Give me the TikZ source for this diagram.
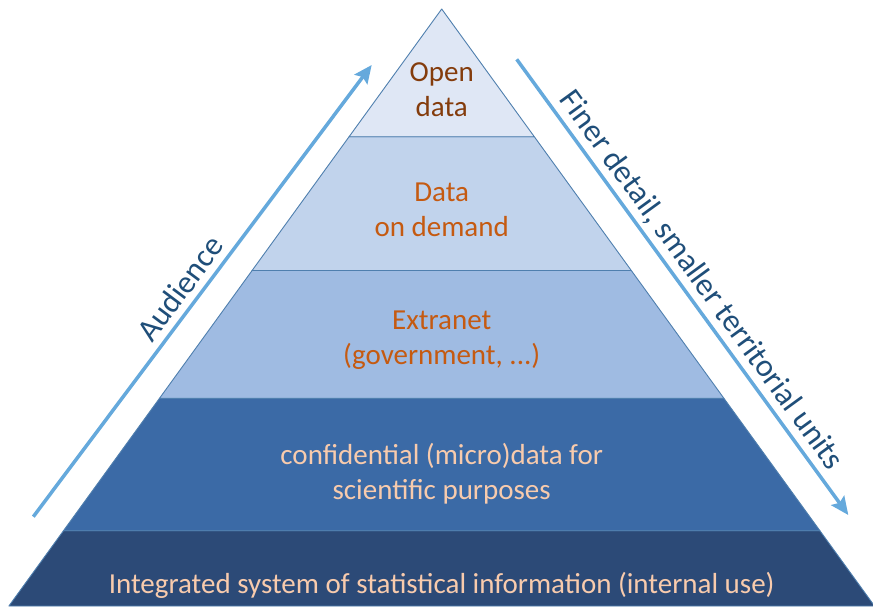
\documentclass[tikz,border=0pt]{standalone}
\usepackage{fontspec}
\setmainfont{Carlito}
\usetikzlibrary{arrows.meta}

\definecolor{tierline}{HTML}{4F7FAE}
\definecolor{tierA}{HTML}{DFE7F5}
\definecolor{tierB}{HTML}{C1D3EC}
\definecolor{tierC}{HTML}{9FBBE2}
\definecolor{tierD}{HTML}{3B6AA6}
\definecolor{tierE}{HTML}{2C4A77}
\definecolor{arrowblue}{HTML}{65A9DC}
\definecolor{labelblue}{HTML}{1F4E79}
\definecolor{browntext}{HTML}{843C0C}
\definecolor{orangetext}{HTML}{C55A11}
\definecolor{peachtext}{HTML}{F8CBAD}

\begin{document}
\begin{tikzpicture}[x=1pt, y=-1pt,
		tier/.style={draw=tierline, line width=0.9pt, line join=round},
		tierlabel/.style={align=center, font=\fontsize{29}{35}\selectfont},
		trend/.style={draw=arrowblue, line width=3.5pt, -{Stealth[length=18pt, width=16pt, inset=3pt]}},
		trendlabel/.style={text=labelblue, font=\fontsize{32}{36}\selectfont}]
		\useasboundingbox (0,0) rectangle (873,606);

		% corners of the pyramid
		\coordinate (apex) at (441.7, 9);
		\coordinate (l1) at (349.1, 136.7);
		\coordinate (r1) at (534.3, 136.7);
		\coordinate (l2) at (252.1, 270.5);
		\coordinate (r2) at (631.3, 270.5);
		\coordinate (l3) at (159.5, 398.3);
		\coordinate (r3) at (723.9, 398.3);
		\coordinate (l4) at (63.5, 530.7);
		\coordinate (r4) at (819.9, 530.7);
		\coordinate (l5) at (8.9, 606);
		\coordinate (r5) at (874.5, 606);

		% draw the tiers, bottom first
		\filldraw [tier, fill=tierE] (l4) -- (r4) -- (r5) -- (l5) -- cycle;
		\filldraw [tier, fill=tierD] (l3) -- (r3) -- (r4) -- (l4) -- cycle;
		\filldraw [tier, fill=tierC] (l2) -- (r2) -- (r3) -- (l3) -- cycle;
		\filldraw [tier, fill=tierB] (l1) -- (r1) -- (r2) -- (l2) -- cycle;
		\filldraw [tier, fill=tierA] (apex) -- (r1) -- (l1) -- cycle;

		% tier texts
		\node [tierlabel, text=browntext] (open) at (441.7, 90) {Open\\data};
		\node [tierlabel, text=orangetext] (demand) at (441.7, 210) {Data\\on demand};
		\node [tierlabel, text=orangetext] (extranet) at (441.7, 340) {Extranet\\(government, ...)};
		\node [tierlabel, text=peachtext] (micro) at (441.7, 474) {confidential (micro)data for\\scientific purposes};
		\node [tierlabel, text=peachtext] (internal) at (441.7, 585) {Integrated system of statistical information (internal use)};

		% draw the side arrows
		\coordinate (audstart) at (33.3, 516.7);
		\coordinate (audend) at (371.7, 65);
		\coordinate (detstart) at (516.7, 59.3);
		\coordinate (detend) at (848.3, 515);

		\draw [trend] (audstart) -- (audend)
			node [trendlabel, pos=0.48, above=3pt, sloped] (audience) {Audience};
		\draw [trend] (detstart) -- (detend)
			node [trendlabel, pos=0.51, above=1pt, sloped] (detail) {Finer detail, smaller territorial units};
\end{tikzpicture}
\end{document}
